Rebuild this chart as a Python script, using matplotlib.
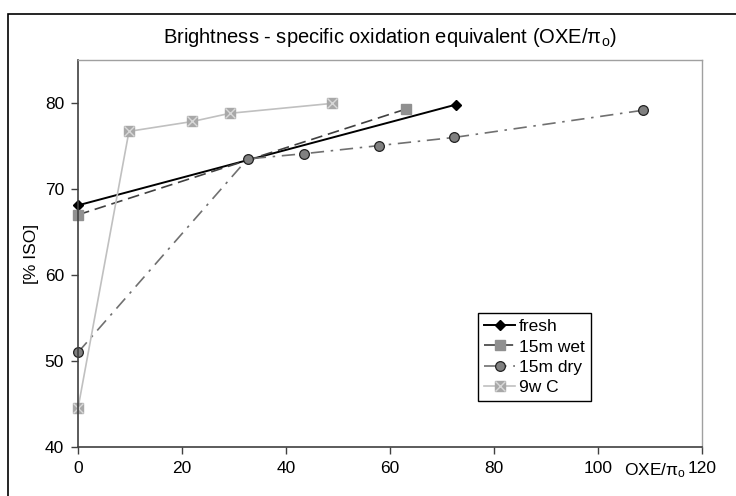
import matplotlib
matplotlib.use("Agg")
import matplotlib.pyplot as plt
from matplotlib.patches import Rectangle

plt.rcParams['font.family'] = ['Liberation Sans', 'DejaVu Sans']

# Data (x = OXE/pi_o, y = brightness % ISO)
fresh_x = [0, 72.6]
fresh_y = [68.1, 79.8]

wet_x = [0, 63.1]
wet_y = [67.0, 79.3]

dry_x = [0, 32.6, 43.4, 57.9, 72.4, 108.6]
dry_y = [51.0, 73.5, 74.1, 75.05, 76.0, 79.15]

c9w_x = [0, 9.8, 22.0, 29.2, 48.8]
c9w_y = [44.5, 76.7, 77.85, 78.8, 79.95]

fig = plt.figure(figsize=(7.36, 4.96), dpi=100)
ax = fig.add_axes([78 / 736, 1 - 447 / 496, 624 / 736, 387 / 496])

# outer chart border (only top and left visible in the crop)
fig.patches.append(Rectangle((8 / 736, -0.1), 1.2, 1 - 14 / 496 + 0.1,
                             transform=fig.transFigure, fill=False,
                             edgecolor='black', linewidth=1.2))

l_fresh, = ax.plot(fresh_x, fresh_y, color='black', lw=1.4, marker='D',
                   ms=5, mfc='black', mec='black', label='fresh', clip_on=False)
l_wet, = ax.plot(wet_x, wet_y, color='#404040', lw=1.2, ls=(0, (7, 3.5)),
                 marker='s', ms=7, mfc='#909090', mec='#909090', label='15m wet',
                 clip_on=False)
l_dry, = ax.plot(dry_x, dry_y, color='#707070', lw=1.2, ls=(0, (8, 4, 1.5, 4)),
                 marker='o', ms=7, mfc='#808080', mec='#222222', mew=0.9,
                 label='15m dry', clip_on=False)
l_c9w, = ax.plot(c9w_x, c9w_y, color='#c0c0c0', lw=1.2, marker='s', ms=7,
                 mfc='#a8a8a8', mec='#a8a8a8', label='9w C', clip_on=False)
x_c9w, = ax.plot(c9w_x, c9w_y, ls='none', marker='x', ms=6.5, mew=1.0,
                 color='#d8d8d8', clip_on=False)

ax.set_xlim(0, 120)
ax.set_ylim(40, 85)
ax.set_xticks([0, 20, 40, 60, 80, 100, 120])
ax.set_yticks([40, 50, 60, 70, 80])
ax.tick_params(direction='out', length=5, width=1, labelsize=12.5,
               color='#404040', pad=5)

for side in ['left', 'bottom']:
    ax.spines[side].set_color('#404040')
    ax.spines[side].set_linewidth(1.2)
for side in ['right', 'top']:
    ax.spines[side].set_color('#a0a0a0')
    ax.spines[side].set_linewidth(1.0)

ax.set_title(r'Brightness - specific oxidation equivalent (OXE/$\mathregular{\pi_o}$)',
             fontsize=14.5, pad=12)
ax.set_ylabel('[% ISO]', fontsize=12.5, labelpad=4)
ax.annotate(r'OXE/$\mathregular{\pi_o}$', xy=(111, 0), xycoords=('data', 'axes fraction'),
            xytext=(0, -10), textcoords='offset points',
            ha='center', va='top', fontsize=12.5)

leg = ax.legend([l_fresh, l_wet, l_dry, (l_c9w, x_c9w)],
                ['fresh', '15m wet', '15m dry', '9w C'],
                loc='lower left', bbox_to_anchor=(0.641, 0.118),
                fontsize=12.5, fancybox=False, framealpha=1, edgecolor='black',
                handlelength=1.8, handletextpad=0.2, borderpad=0.35,
                labelspacing=0.3, borderaxespad=0)
leg.get_frame().set_linewidth(1.0)

fig.savefig('out.png', dpi=100)
